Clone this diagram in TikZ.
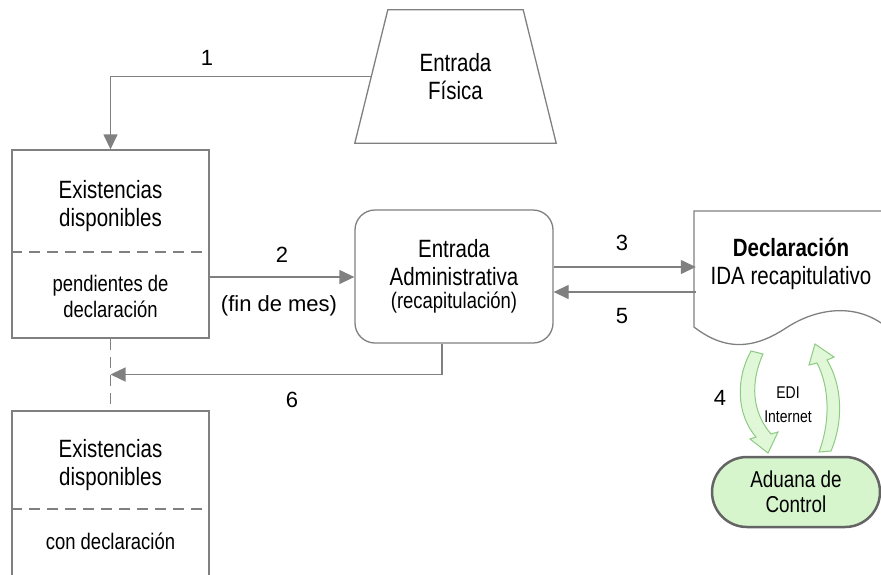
\documentclass[tikz,border=0pt]{standalone}
\usepackage{fontspec}
\setmainfont{Liberation Sans}[FakeStretch=0.82]
\newfontfamily\labelfont{Liberation Sans}
\usetikzlibrary{shapes, arrows.meta, positioning, calc}

\definecolor{linegray}{RGB}{128,128,128}
\definecolor{termgray}{RGB}{100,100,100}
\definecolor{aduanagreen}{RGB}{214,245,204}
\definecolor{edifill}{RGB}{224,247,216}
\definecolor{edidraw}{RGB}{140,204,130}

\begin{document}
\begin{tikzpicture}[
    x=1pt, y=-1pt,
    every node/.style={font=\fontsize{25}{28}\selectfont, align=center, inner sep=0pt},
    stockbox/.style={
        rectangle,
        draw=linegray,
        line width=1.3pt,
        minimum width=197pt,
        minimum height=188pt
    },
    inbox/.style={
        rectangle,
        minimum width=201pt,
        minimum height=133pt
    },
    process/.style={
        rectangle,
        rounded corners=20pt,
        minimum width=198pt,
        minimum height=133pt,
        draw=linegray,
        line width=1.3pt
    },
    terminal/.style={
        rectangle,
        rounded corners=35pt,
        minimum width=168pt,
        minimum height=70pt,
        draw=termgray,
        line width=2.5pt,
        fill=aduanagreen,
        font=\fontsize{23}{25}\selectfont
    },
    small/.style={font=\fontsize{22.5}{26}\selectfont},
    lab/.style={font=\labelfont\fontsize{22}{26}\selectfont},
    divider/.style={draw=linegray, line width=1.3pt, dash pattern=on 11pt off 7pt},
    arrow/.style={
        draw=linegray,
        line width=1.3pt,
        -{Triangle[length=15pt, width=14pt]}
    },
    ediarrow/.style={fill=edifill, draw=edidraw, line width=1pt}
]
\useasboundingbox (0,0) rectangle (881,574);

% Entrada fisica
\node (fisica) [inbox] at (455.5,76.5) {Entrada\\Física};
\draw [draw=linegray, line width=1.3pt] (fisica.south west) -- ([xshift=33pt]fisica.north west)
    -- ([xshift=-33pt]fisica.north east) -- (fisica.south east) -- cycle;
\coordinate (fisicaside) at ($(fisica.south west)!0.5!([xshift=33pt]fisica.north west)$);

% Existencias pendientes
\node (exis1) [stockbox] at (110.5,244) {};
\node (exis1top) at (110.5,206) {Existencias\\disponibles};
\node (exis1bot) [small] at (110.5,296) {pendientes de\\declaración};
\draw [divider] (exis1.west |- 0,252) -- (exis1.east |- 0,252);

% Existencias con declaracion
\node (exis2) [stockbox] at (110.5,505) {};
\node (exis2top) at (110.5,465) {Existencias\\disponibles};
\node (exis2bot) [small] at (110.5,541) {con declaración};
\draw [divider] (exis2.west |- 0,509) -- (exis2.east |- 0,509);

% Entrada administrativa
\node (admin) [process] at (454,276.5) {Entrada\\Administrativa\\[-5pt]{\fontsize{22.5}{24}\selectfont(recapitulación)}};

% Declaracion (documento)
\node (decl) [minimum width=190pt] at (791,264) {\textbf{Declaración}\\IDA recapitulativo};
\draw [draw=linegray, line width=1.3pt] (884,211) -- (694,211) -- (694,327)
    .. controls (730,355) and (760,345) .. (786,328)
    .. controls (810,312) and (850,300) .. (884,325);

% Aduana
\node (aduana) [terminal] at (796,492) {Aduana de\\Control};

% Arrows
\draw [arrow] (fisicaside) -| (exis1.north);
\draw [arrow] ([yshift=-33pt]exis1.east) -- ([yshift=-33pt]exis1.east -| admin.west);
\draw [arrow] ([yshift=9.5pt]admin.east) -- ([yshift=9.5pt]admin.east -| decl.west);
\draw [arrow] ([yshift=-15.5pt]admin.east -| decl.west) -- ([yshift=-15.5pt]admin.east);
\draw [arrow] ([xshift=-12pt]admin.south) |- ($(exis1.south)!0.5!(exis2.north)$);
\draw [divider] (exis1.south) -- (exis2.north);

% EDI arrows
\path [ediarrow] (751,351) .. controls (735,380) and (737,415) .. (756,437)
    -- (750,439) -- (768,453) -- (778,432) -- (771,434)
    .. controls (752,412) and (750,383) .. (763,354) -- cycle;
\path [ediarrow] (819,452) .. controls (831,420) and (829,386) .. (817,363)
    -- (809,365) -- (815,344) -- (834,357) -- (827,360)
    .. controls (842,385) and (844,420) .. (831,451) -- cycle;

% Labels
\node (lab1) [lab] at (207,58) {1};
\node (lab2) [lab] at (282,255) {2};
\node (finmes) [lab] at (279,306) {(fin de mes)};
\node (lab3) [lab] at (622,243) {3};
\node (lab5) [lab] at (622,316) {5};
\node (lab6) [lab] at (292,400) {6};
\node (lab4) [lab] at (720,398) {4};
\node (edi) [font=\fontsize{17}{24}\selectfont] at (788,405) {EDI\\Internet};

\end{tikzpicture}
\end{document}
